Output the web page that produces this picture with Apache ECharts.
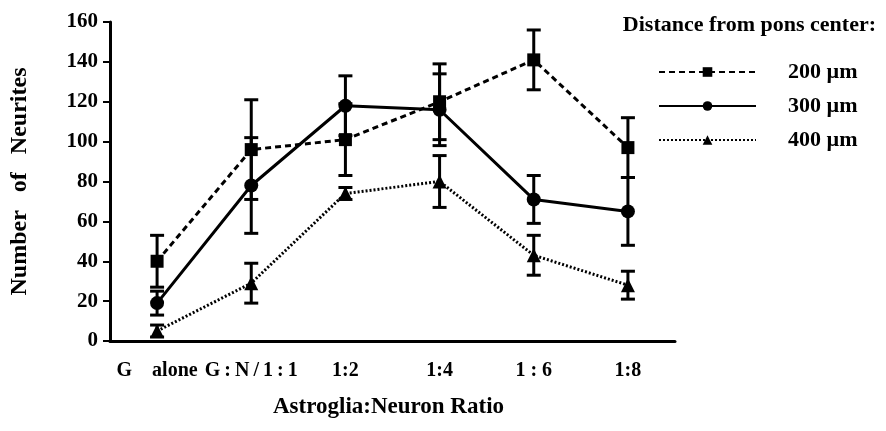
<!DOCTYPE html>
<html>
<head>
<meta charset="utf-8">
<script src="https://cdn.jsdelivr.net/npm/echarts@6/dist/echarts.min.js"></script>
<style>
  html, body { margin: 0; padding: 0; background: #fff; }
  #chart { width: 886px; height: 431px; }
</style>
</head>
<body>
<div id="chart"></div>
<script>
  // categories on the x axis
  var ratios = ['G    alone', 'G\u2009:\u2009N\u2009/\u20091\u2009:\u20091', '1:2', '1:4', '1 : 6', '1:8'];
  // mean number of neurites per distance
  var d200 = [40, 96, 101, 120, 141, 97];
  var d300 = [19, 78, 118, 116, 71, 65];
  var d400 = [5, 29, 74, 80, 43, 28];
  // +/- error for each point
  var e200 = [13, 25, 18, 19, 15, 15];
  var e300 = [6, 24, 15, 18, 12, 17];
  var e400 = [3, 10, 3, 13, 10, 7];
  var yTicks = [0, 20, 40, 60, 80, 100, 120, 140, 160];

  var serif = 'Liberation Serif';

  function errData(vals, errs) {
    return vals.map(function (v, i) { return [i, Math.max(0, v - errs[i]), v + errs[i]]; });
  }

  function errSeries(vals, errs) {
    return {
      type: 'custom',
      silent: true,
      z: 1,
      data: errData(vals, errs),
      renderItem: function (params, api) {
        var x = api.value(0);
        var lo = api.coord([x, api.value(1)]);
        var hi = api.coord([x, api.value(2)]);
        var w = 7;
        var st = { stroke: '#000', lineWidth: 3 };
        return {
          type: 'group',
          children: [
            { type: 'line', shape: { x1: lo[0], y1: lo[1], x2: hi[0], y2: hi[1] }, style: st },
            { type: 'line', shape: { x1: lo[0] - w, y1: lo[1], x2: lo[0] + w, y2: lo[1] }, style: st },
            { type: 'line', shape: { x1: hi[0] - w, y1: hi[1], x2: hi[0] + w, y2: hi[1] }, style: st }
          ]
        };
      }
    };
  }

  var chart = echarts.init(document.getElementById('chart'));
  chart.setOption({
    animation: false,
    textStyle: { fontFamily: serif, fontWeight: 'bold', color: '#000' },
    title: {
      text: 'Distance from pons center:',
      right: 5,
      top: 9,
      textStyle: { fontFamily: serif, fontWeight: 'bold', fontSize: 22, color: '#000' }
    },
    legend: {
      orient: 'vertical',
      left: 653,
      top: 56,
      itemWidth: 97,
      itemHeight: 12,
      itemGap: 12,
      data: ['200 µm', '300 µm', '400 µm'],
      textStyle: { fontFamily: serif, fontWeight: 'bold', fontSize: 22, color: '#000', padding: [0, 0, 0, 27] }
    },
    grid: { left: 110, right: 211, top: 22, bottom: 90 },
    xAxis: {
      type: 'category',
      data: ratios,
      boundaryGap: true,
      name: 'Astroglia:Neuron Ratio',
      nameLocation: 'middle',
      nameGap: 55,
      nameTextStyle: { fontFamily: serif, fontWeight: 'bold', fontSize: 23, color: '#000', padding: [0, 8, 0, 0] },
      axisLine: { lineStyle: { color: '#000', width: 3 } },
      axisTick: { alignWithLabel: true, length: 7, lineStyle: { color: '#000', width: 2 } },
      axisLabel: { interval: 0, hideOverlap: false, fontFamily: serif, fontWeight: 'bold', fontSize: 20, color: '#000', margin: 20 },
      splitLine: { show: false }
    },
    yAxis: {
      type: 'value',
      min: yTicks[0],
      max: yTicks[yTicks.length - 1],
      interval: 20,
      name: 'Number   of   Neurites',
      nameLocation: 'middle',
      nameGap: 78,
      nameTextStyle: { fontFamily: serif, fontWeight: 'bold', fontSize: 24, color: '#000' },
      axisLine: { show: true, lineStyle: { color: '#000', width: 3 } },
      axisTick: { show: true, length: 7, lineStyle: { color: '#000', width: 2 } },
      axisLabel: { fontFamily: serif, fontWeight: 'bold', fontSize: 21, color: '#000', margin: 12 },
      splitLine: { show: false }
    },
    series: [
      errSeries(d200, e200),
      errSeries(d300, e300),
      errSeries(d400, e400),
      {
        name: '200 µm', type: 'line', data: d200, z: 3,
        symbol: 'rect', symbolSize: 13,
        lineStyle: { color: '#000', width: 3, type: [6, 4] },
        itemStyle: { color: '#000' }
      },
      {
        name: '300 µm', type: 'line', data: d300, z: 3,
        symbol: 'circle', symbolSize: 14,
        lineStyle: { color: '#000', width: 3, type: 'solid' },
        itemStyle: { color: '#000' }
      },
      {
        name: '400 µm', type: 'line', data: d400, z: 3,
        symbol: 'triangle', symbolSize: 14,
        lineStyle: { color: '#000', width: 3, type: [2, 2] },
        itemStyle: { color: '#000' }
      }
    ]
  });
</script>
</body>
</html>
